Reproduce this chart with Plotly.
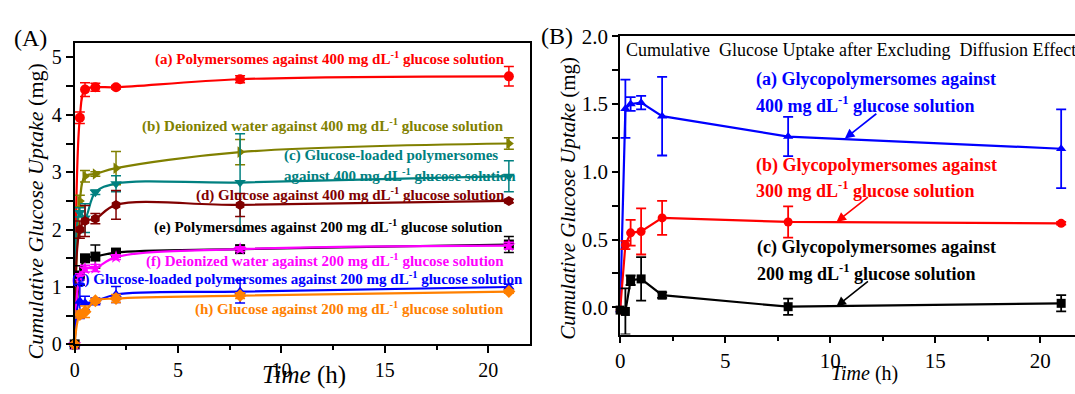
import plotly.graph_objects as go

FONT = "Liberation Serif"
W, H = 1075, 394

# ---------------- Panel A: cumulative glucose uptake ----------------
time_a = [0, 0.25, 0.5, 1, 2, 8, 21]

series_a = [
    # name, colour, symbol, values, errors
    ("(a) Polymersomes against 400", "#FF0000", "circle",
     [0, 3.95, 4.44, 4.48, 4.48, 4.62, 4.67],
     [0, 0.10, 0.12, 0.07, 0.03, 0.06, 0.17]),
    ("(b) Deionized water against 400", "#808000", "triangle-right",
     [0, 2.50, 2.93, 2.97, 3.07, 3.35, 3.50],
     [0, 0.10, 0.10, 0.04, 0.29, 0.22, 0.10]),
    ("(c) Glucose-loaded polymersomes against 400", "#008080", "triangle-down",
     [0, 2.30, 2.20, 2.65, 2.80, 2.82, 2.93],
     [0, 0.08, 0.25, 0.04, 0.14, 0.85, 0.27]),
    ("(d) Glucose against 400", "#800000", "hexagon",
     [0, 2.00, 2.15, 2.19, 2.43, 2.43, 2.50],
     [0, 0.15, 0.27, 0.09, 0.25, 0.20, 0.03]),
    ("(e) Polymersomes against 200", "#000000", "square",
     [0, 1.20, 1.50, 1.53, 1.60, 1.66, 1.74],
     [0, 0.17, 0.05, 0.20, 0.04, 0.03, 0.14]),
    ("(f) Deionized water against 200", "#FF00FF", "star",
     [0, 1.18, 1.32, 1.33, 1.52, 1.66, 1.72],
     [0, 0.05, 0.06, 0.06, 0.04, 0.04, 0.06]),
    ("(g) Glucose-loaded polymersomes against 200", "#0000FF", "triangle-up",
     [0, 0.75, 0.72, 0.75, 0.87, 0.92, 1.00],
     [0, 0.30, 0.12, 0.06, 0.14, 0.20, 0.05]),
    ("(h) Glucose against 200", "#FF8000", "diamond",
     [0, 0.52, 0.57, 0.76, 0.80, 0.85, 0.92],
     [0, 0.06, 0.10, 0.04, 0.07, 0.05, 0.03]),
]

# ---------------- Panel B: uptake after excluding diffusion ----------------
time_b = [0, 0.25, 0.5, 1, 2, 8, 21]

series_b = [
    ("(a) 400", "#0000FF", "triangle-up",
     [-0.02, 1.465, 1.50, 1.51, 1.41, 1.26, 1.17],
     [0, 0.215, 0.05, 0.05, 0.29, 0.145, 0.29]),
    ("(b) 300", "#FF0000", "circle",
     [-0.02, 0.46, 0.55, 0.56, 0.66, 0.63, 0.62],
     [0, 0.03, 0.095, 0.17, 0.125, 0.115, 0.01]),
    ("(c) 200", "#000000", "square",
     [-0.02, -0.03, 0.20, 0.21, 0.09, 0.005, 0.03],
     [0, 0.17, 0.035, 0.16, 0.02, 0.06, 0.06]),
]

fig = go.Figure()

for name, col, sym, vals, errs in series_a:
    fig.add_trace(go.Scatter(
        x=time_a, y=vals, name=name, mode="lines+markers",
        line=dict(color=col, width=2.2, shape="spline", smoothing=1.0),
        marker=dict(color=col, symbol=sym, size=10),
        error_y=dict(type="data", array=errs, visible=True, color=col,
                     thickness=1.5, width=5),
        xaxis="x", yaxis="y", showlegend=False, cliponaxis=False,
    ))

for name, col, sym, vals, errs in series_b:
    fig.add_trace(go.Scatter(
        x=time_b, y=vals, name=name, mode="lines+markers",
        line=dict(color=col, width=2.2),
        marker=dict(color=col, symbol=sym, size=9),
        error_y=dict(type="data", array=errs, visible=True, color=col,
                     thickness=1.8, width=5),
        xaxis="x2", yaxis="y2", showlegend=False, cliponaxis=False,
    ))


def px_x(p):
    return p / W


def px_y(p):
    return 1 - p / H


def axis_style(size, ticklen):
    return dict(
        showline=True, linecolor="black", linewidth=2,
        ticks="outside", ticklen=ticklen, tickwidth=2, tickcolor="black",
        showgrid=False, zeroline=False,
        tickfont=dict(family=FONT, size=size, color="black"),
    )


def minor(step, length):
    return dict(dtick=step, tick0=0, ticks="outside", ticklen=length,
                tickwidth=2, tickcolor="black")


fig.update_layout(
    width=W, height=H,
    margin=dict(l=0, r=0, t=0, b=0),
    paper_bgcolor="white", plot_bgcolor="white",
    xaxis=dict(domain=[px_x(70), px_x(527)], range=[0, 22], anchor="y",
               tickvals=[0, 5, 10, 15, 20], mirror=True,
               minor=minor(2.5, 4), **axis_style(20, 7)),
    yaxis=dict(domain=[px_y(353), px_y(33)], range=[0, 5.25], anchor="x",
               tickvals=[0, 1, 2, 3, 4, 5], mirror=True,
               minor=minor(0.5, 7), **axis_style(20, 7)),
    xaxis2=dict(domain=[px_x(618), 1.0], range=[0, (W - 618) / 21.1],
                anchor="y2", tickvals=[0, 5, 10, 15, 20], mirror=True,
                minor=minor(2.5, 4), **axis_style(21, 6)),
    yaxis2=dict(domain=[px_y(342.5), px_y(25.7)], range=[-0.2, 2.0],
                anchor="x2", tickvals=[0, 0.5, 1.0, 1.5, 2.0],
                tickformat=".1f", mirror=False,
                minor=minor(0.25, 6), **axis_style(21, 6)),
)

ann = []


def text(x, y, s, size, color="black", xanchor="center", bold=False,
         angle=0):
    if bold:
        s = "<b>" + s + "</b>"
    ann.append(dict(x=px_x(x), y=px_y(y), xref="paper", yref="paper",
                    text=s, showarrow=False, xanchor=xanchor,
                    yanchor="middle", textangle=angle,
                    font=dict(family=FONT, size=size, color=color)))


# panel letters
text(26, 28, "(A)", 24)
text(555, 26, "(B)", 24)

# axis titles
text(31, 212, "<i>Cumulative Glucose Uptake</i> (mg)", 22, angle=-90)
text(300, 386, "<i>Time</i> (h)", 25)
text(566, 198, "<i>Cumulative Glucose Uptake</i> (mg)", 21, angle=-90)
text(864, 384, "<i>Time</i> (h)", 20)

# panel A curve labels
SUP = "dL<sup>-1</sup>"
labels_a = [
    (504, 49, "right", "#FF0000", f"(a) Polymersomes against 400 mg {SUP} glucose solution"),
    (503, 121, "right", "#808000", f"(b) Deionized water against 400 mg {SUP} glucose solution"),
    (278, 152, "left", "#008080", "(c) Glucose-loaded polymersomes"),
    (278, 173, "left", "#008080", f"against 400 mg {SUP} glucose solution"),
    (504, 194, "right", "#800000", f"(d) Glucose against 400 mg {SUP} glucose solution"),
    (502, 228, "right", "#000000", f"(e) Polymersomes against 200 mg {SUP} glucose solution"),
    (503, 264, "right", "#FF00FF", f"(f) Deionized water against 200 mg {SUP} glucose solution"),
    (522, 283, "right", "#0000FF", f"(g) Glucose-loaded polymersomes against 200 mg {SUP} glucose solution"),
    (503, 315, "right", "#FF8000", f"(h) Glucose against 200 mg {SUP} glucose solution"),
]
for xp, yp, anc, col, s in labels_a:
    text(xp, yp, s, 15, color=col, xanchor=anc, bold=True)

# panel B heading and curve labels
NB = "\u00a0"
text(622, 40,
     f"Cumulative{NB}{NB}Glucose Uptake after Excluding{NB}{NB}Diffusion Effect",
     18, xanchor="left")
labels_b = [
    (752, 72, "#0000FF", "(a) Glycopolymersomes against"),
    (752, 98, "#0000FF", f"400 mg {SUP} glucose solution"),
    (752, 163, "#FF0000", "(b) Glycopolymersomes against"),
    (752, 189, "#FF0000", f"300 mg {SUP} glucose solution"),
    (754, 250, "#000000", "(c) Glycopolymersomes against"),
    (754, 277, "#000000", f"200 mg {SUP} glucose solution"),
]
for xp, yp, col, s in labels_b:
    text(xp, yp, s, 18, color=col, xanchor="left", bold=True)

# pointer arrows from labels to curves in panel B
for xh, yh, col in [(10.7, 1.245, "#0000FF"), (10.3, 0.63, "#FF0000"),
                    (10.3, 0.008, "#000000")]:
    ann.append(dict(x=xh, y=yh, xref="x2", yref="y2", ax=33, ay=-26,
                    showarrow=True, arrowhead=2, arrowsize=1.2,
                    arrowwidth=1.6, arrowcolor=col, text=""))

fig.update_layout(annotations=ann)
fig.write_html("out.html")
